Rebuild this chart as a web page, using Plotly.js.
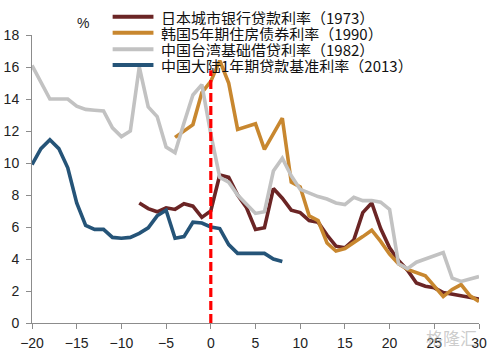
<!DOCTYPE html>
<html><head><meta charset="utf-8">
<script src="https://cdn.plot.ly/plotly-3.0.1.min.js"></script>
<style>html,body{margin:0;padding:0;background:#fff}#chart{width:499px;height:353px}</style>
</head><body><div id="chart"></div>
<script>
const seriesNames = ["日本城市银行贷款利率（1973）", "韩国5年期住房债券利率（1990）", "中国台湾基础借贷利率（1982）", "中国大陆1年期贷款基准利率（2013）"];
const seriesColors = ["#6B2525", "#C8872F", "#C2C2C2", "#255478"];

const jpX = [-8,-7,-6,-5,-4,-3,-2,-1,0,1,2,3,4,5,6,7,8,9,10,11,12,13,14,15,16,17,18,19,20,21,22,23,24,25,26,27,28,29,30];
const jpY = [7.5,7.15,6.95,7.2,7.1,7.45,7.3,6.6,7.0,9.25,9.1,8.0,7.2,5.85,5.95,8.4,7.8,7.05,6.9,6.4,6.3,5.5,4.8,4.7,5.2,6.9,7.5,5.9,4.7,3.9,3.3,2.5,2.3,2.2,1.9,1.8,1.75,1.65,1.5];

const krX = [-4,-3,-2,-1,0,1,2,3,4,5,6,7,8,9,10,11,12,13,14,15,16,17,18,19,20,21,22,23,24,25,26,27,28,29,30];
const krY = [11.6,12.0,12.4,14.4,15.1,16.4,15.0,12.1,12.3,12.45,10.85,11.8,12.8,8.8,8.5,6.7,6.4,5.0,4.5,4.65,5.0,5.4,5.8,5.1,4.3,3.7,3.35,3.15,2.95,2.3,1.65,2.1,2.4,1.7,1.35];

const twX = [-20,-19,-18,-17,-16,-15,-14,-13,-12,-11,-10,-9,-8,-7,-6,-5,-4,-3,-2,-1,0,1,2,3,4,5,6,7,8,9,10,11,12,13,14,15,16,17,18,19,20,21,22,23,24,25,26,27,28,29,30];
const twY = [16.1,15.0,14.0,14.0,14.0,13.55,13.35,13.3,13.25,12.2,11.65,12.0,16.0,13.5,12.9,11.0,10.65,12.5,14.25,14.9,11.8,9.1,8.8,8.0,7.4,6.85,6.95,9.5,10.3,9.2,8.35,8.1,7.9,7.75,7.5,7.4,7.85,7.65,7.65,7.55,7.1,3.7,3.4,3.8,4.0,4.2,4.4,2.8,2.6,2.75,2.9];

const cnX = [-20,-19,-18,-17,-16,-15,-14,-13,-12,-11,-10,-9,-8,-7,-6,-5,-4,-3,-2,-1,0,1,2,3,4,5,6,7,8];
const cnY = [9.9,10.9,11.45,10.9,9.7,7.5,6.1,5.85,5.85,5.35,5.3,5.35,5.6,5.95,6.7,7.05,5.3,5.4,6.3,6.25,6.0,5.9,4.9,4.35,4.35,4.35,4.35,4.0,3.85];

const refX = [0, 0];
const refY = [0, 15.8];

const xTicks = [-20,-15,-10,-5,0,5,10,15,20,25,30];
const yTicks = [0,2,4,6,8,10,12,14,16,18];

const xs = [jpX, krX, twX, cnX];
const ys = [jpY, krY, twY, cnY];

const traces = xs.map((x, i) => ({
  type: "scatter", mode: "lines", x: x, y: ys[i], name: seriesNames[i],
  line: {color: seriesColors[i], width: 3.6}, showlegend: false, hoverinfo: "skip"
}));
traces.push({type: "scatter", mode: "lines", x: refX, y: refY, showlegend: false,
  line: {color: "#FF0000", width: 3.2, dash: "9px,4px"}, hoverinfo: "skip"});

// custom legend (layout only)
const legRowsY = [1.0635, 1.008, 0.9503, 0.8958];
const shapes = [];
const annotations = [];
seriesNames.forEach((n, i) => {
  shapes.push({type: "line", xref: "paper", yref: "paper", x0: 0.1804, x1: 0.2717,
    y0: legRowsY[i], y1: legRowsY[i], line: {color: seriesColors[i], width: 4}});
  annotations.push({xref: "paper", yref: "paper", x: 0.287, y: legRowsY[i], xanchor: "left", yanchor: "middle",
    height: 16, borderpad: 0,
    text: n, showarrow: false, font: {family: "Noto Sans CJK SC", size: 15, color: "#111"}});
});
annotations.push({xref: "paper", yref: "paper", x: 0.1147, y: 1.043, xanchor: "center", yanchor: "middle",
  text: "%", showarrow: false, font: {family: "Liberation Sans, Arial", size: 14, color: "#222"}});
annotations.push({xref: "paper", yref: "paper", x: 1.0, y: -0.05, xanchor: "right", yanchor: "middle",
  text: "格隆汇", showarrow: false, font: {family: "Noto Sans CJK SC", size: 17, color: "rgba(170,170,170,0.6)"}});

const layout = {
  width: 499, height: 353,
  margin: {l: 32, r: 20, t: 35, b: 30, pad: 0},
  paper_bgcolor: "#fff", plot_bgcolor: "#fff",
  font: {family: "Liberation Sans, Arial", size: 14, color: "#222"},
  showlegend: false,
  xaxis: {range: [-20, 30], tickvals: xTicks, showgrid: false, zeroline: false,
    showline: true, linecolor: "#8c8c8c", linewidth: 1, ticks: "outside", ticklen: 5, tickcolor: "#8c8c8c",
    ticklabelstandoff: 2, tickfont: {size: 14, color: "#222"}},
  yaxis: {range: [0, 18], tickvals: yTicks, showgrid: false, zeroline: false,
    showline: true, linecolor: "#8c8c8c", linewidth: 1, ticks: "outside", ticklen: 5, tickcolor: "#8c8c8c",
    ticklabelstandoff: 4, tickfont: {size: 14, color: "#222"}},
  shapes: shapes, annotations: annotations
};
Plotly.newPlot("chart", traces, layout, {staticPlot: true, displayModeBar: false});
</script>
</body></html>
